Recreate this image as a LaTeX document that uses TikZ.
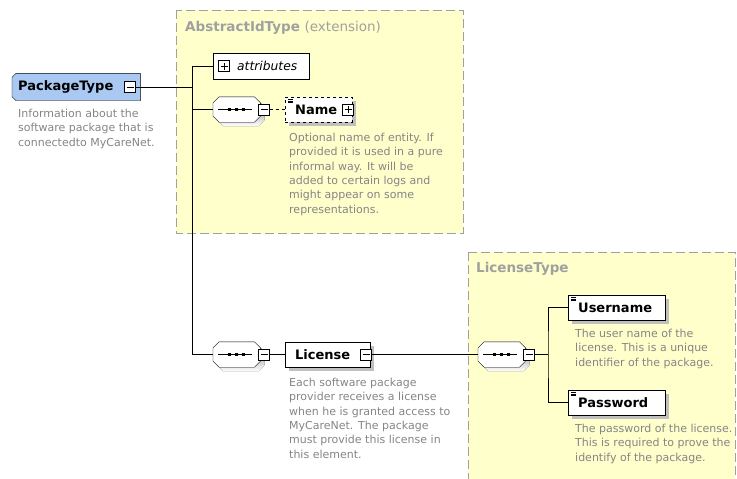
\documentclass[tikz,border=0pt]{standalone}
\usepackage{fontspec}
\setmainfont{DejaVu Sans}
\usetikzlibrary{positioning,shadows,calc,backgrounds}

\definecolor{typefill}{HTML}{FFFFCC}
\definecolor{typeline}{HTML}{A0A0A0}
\definecolor{doctext}{HTML}{858585}
\definecolor{shade}{HTML}{C0C0C0}
\definecolor{rootfill}{HTML}{A9C9F2}

\newcommand\elemicon[1]{%
  \foreach \k in {0,1.7,3.4}
    \draw[line width=0.6pt] ($(#1.north west)+(3,2.5+\k)$) -- ++(5,0);}

\newcommand\octpath[2]{%
  ($(#1.north west)+(6+#2,#2)$) -- ($(#1.north east)+(-6+#2,#2)$)
  -- ($(#1.north east)+(#2,6+#2)$) -- ($(#1.south east)+(#2,-6+#2)$)
  -- ($(#1.south east)+(-6+#2,#2)$) -- ($(#1.south west)+(6+#2,#2)$)
  -- ($(#1.south west)+(#2,-6+#2)$) -- ($(#1.north west)+(#2,6+#2)$) -- cycle}

\newcommand\seqdraw[1]{%
  \fill[shade] \octpath{#1}{4};
  \filldraw[fill=white] \octpath{#1}{0};
  \draw ($(#1.west)+(5,0)$) -- ($(#1.east)+(-8,0)$);
  \foreach \d in {-7,0,7}
    \fill ($(#1.center)+(\d-0.5,0)$) +(-1.7,-1.7) rectangle +(1.7,1.7);}

\begin{document}
\begin{tikzpicture}[x=1pt,y=-1pt,
    typebox/.style={
      draw=typeline,
      fill=typefill,
      line width=1pt,
      dash pattern=on 9pt off 4pt
    },
    typetitle/.style={
      anchor=west,
      text=typeline,
      font=\fontsize{13.5}{15}\selectfont\bfseries,
      inner sep=0pt
    },
    shad/.style={
      drop shadow={shadow xshift=4pt,shadow yshift=-4pt,fill=shade,opacity=1}
    },
    elem/.style={
      draw,
      fill=white,
      anchor=west,
      minimum height=25pt,
      inner xsep=0pt,
      font=\fontsize{13}{15}\selectfont\bfseries
    },
    seq/.style={
      anchor=west,
      minimum width=47pt,
      minimum height=25pt,
      inner sep=0pt
    },
    minus/.style={
      draw,
      fill=white,
      minimum size=11pt,
      inner sep=0pt,
      path picture={
        \draw ([xshift=2pt]path picture bounding box.west)
          -- ([xshift=-2pt]path picture bounding box.east);
      }
    },
    plus/.style={
      minus,
      path picture={
        \draw ([xshift=2pt]path picture bounding box.west)
          -- ([xshift=-2pt]path picture bounding box.east);
        \draw ([yshift=-2pt]path picture bounding box.north)
          -- ([yshift=2pt]path picture bounding box.south);
      }
    },
    doc/.style={
      anchor=north west,
      inner sep=0pt,
      align=left,
      text=doctext,
      font=\fontsize{11}{14.3}\selectfont
    }
  ]
  \useasboundingbox (0,0) rectangle (737,479);

  \draw[typebox] (176,10) rectangle (463,233);
  \draw[typebox] (468,252) rectangle (735,490);
  \node[typetitle] (absT) at (185,28) {AbstractIdType \mdseries(extension)};
  \node[typetitle] (licT) at (476,269) {LicenseType};

  \node[elem, draw=none, fill=none, minimum width=128pt, minimum height=27pt,
        text width=128pt, align=left] (pkg) at (12,87) {\hspace{6pt}PackageType};
  \begin{scope}[on background layer]
    \filldraw[fill=rootfill] ($(pkg.north west)+(4,0)$) -- (pkg.north east)
      -- (pkg.south east) -- ($(pkg.south west)+(4,0)$)
      -- ($(pkg.south west)+(0,-4)$) -- ($(pkg.north west)+(0,4)$) -- cycle;
  \end{scope}
  \node[minus] (pkgm) at (130,87) {};
  \node[doc] (pkgd) at (18,109) {Information about the\\software package that is\\connectedto MyCareNet.};

  \node[elem, font=\fontsize{12.3}{14}\selectfont\itshape, minimum width=96pt,
        minimum height=26pt, text width=96pt, align=left] (attr) at (213,66) {\hspace{24pt}attributes};
  \node[plus] (attrp) at (224,66) {};

  \node[seq] (seqA) at (213,109.5) {};
  \seqdraw{seqA}
  \node[minus] (seqAm) at (264,109.5) {};
  \node[elem, dashed, shad, minimum width=67pt, text width=67pt, align=left] (name) at (285,109.5) {\hspace{10pt}Name};
  \node[plus] (namep) at (348,109.5) {};
  \elemicon{name}
  \node[doc] (named) at (289,133) {Optional name of entity. If\\provided it is used in a pure\\informal way. It will be\\added to certain logs and\\might appear on some\\representations.};

  \node[seq] (seqB) at (213,354.5) {};
  \seqdraw{seqB}
  \node[minus] (seqBm) at (264,354.5) {};
  \node[elem, shad, minimum width=85pt, text width=85pt, align=left] (lic) at (285,354.5) {\hspace{10pt}License};
  \node[minus] (licm) at (366,354.5) {};
  \node[doc] (licd) at (289,378) {Each software package\\provider receives a license\\when he is granted access to\\MyCareNet. The package\\must provide this license in\\this element.};

  \node[seq] (seqC) at (478,354.5) {};
  \seqdraw{seqC}
  \node[minus] (seqCm) at (529,354.5) {};
  \node[elem, shad, minimum width=97pt, text width=97pt, align=left] (user) at (568,307.5) {\hspace{10pt}Username};
  \elemicon{user}
  \node[doc] (userd) at (575,329) {The user name of the\\license. This is a unique\\identifier of the package.};
  \node[elem, shad, minimum width=97pt, text width=97pt, align=left] (pass) at (568,402.5) {\hspace{10pt}Password};
  \elemicon{pass}
  \node[doc] (passd) at (575,424) {The password of the license.\\This is required to prove the\\identify of the package.};

  \coordinate (trunkA) at (192,87);
  \coordinate (trunkB) at (548,354.5);
  \draw (pkgm.east) -- (trunkA);
  \draw (attr.west) -| (seqB.west -| trunkA) -- (seqB.west);
  \draw (seqA.west) -- (seqA.west -| trunkA);
  \draw[dashed] (seqAm.east) -- (name.west);
  \draw (seqBm.east) -- (lic.west);
  \draw (licm.east) -- (seqC.west);
  \draw (seqCm.east) -- (trunkB);
  \draw (user.west) -| (trunkB) |- (pass.west);
\end{tikzpicture}
\end{document}
